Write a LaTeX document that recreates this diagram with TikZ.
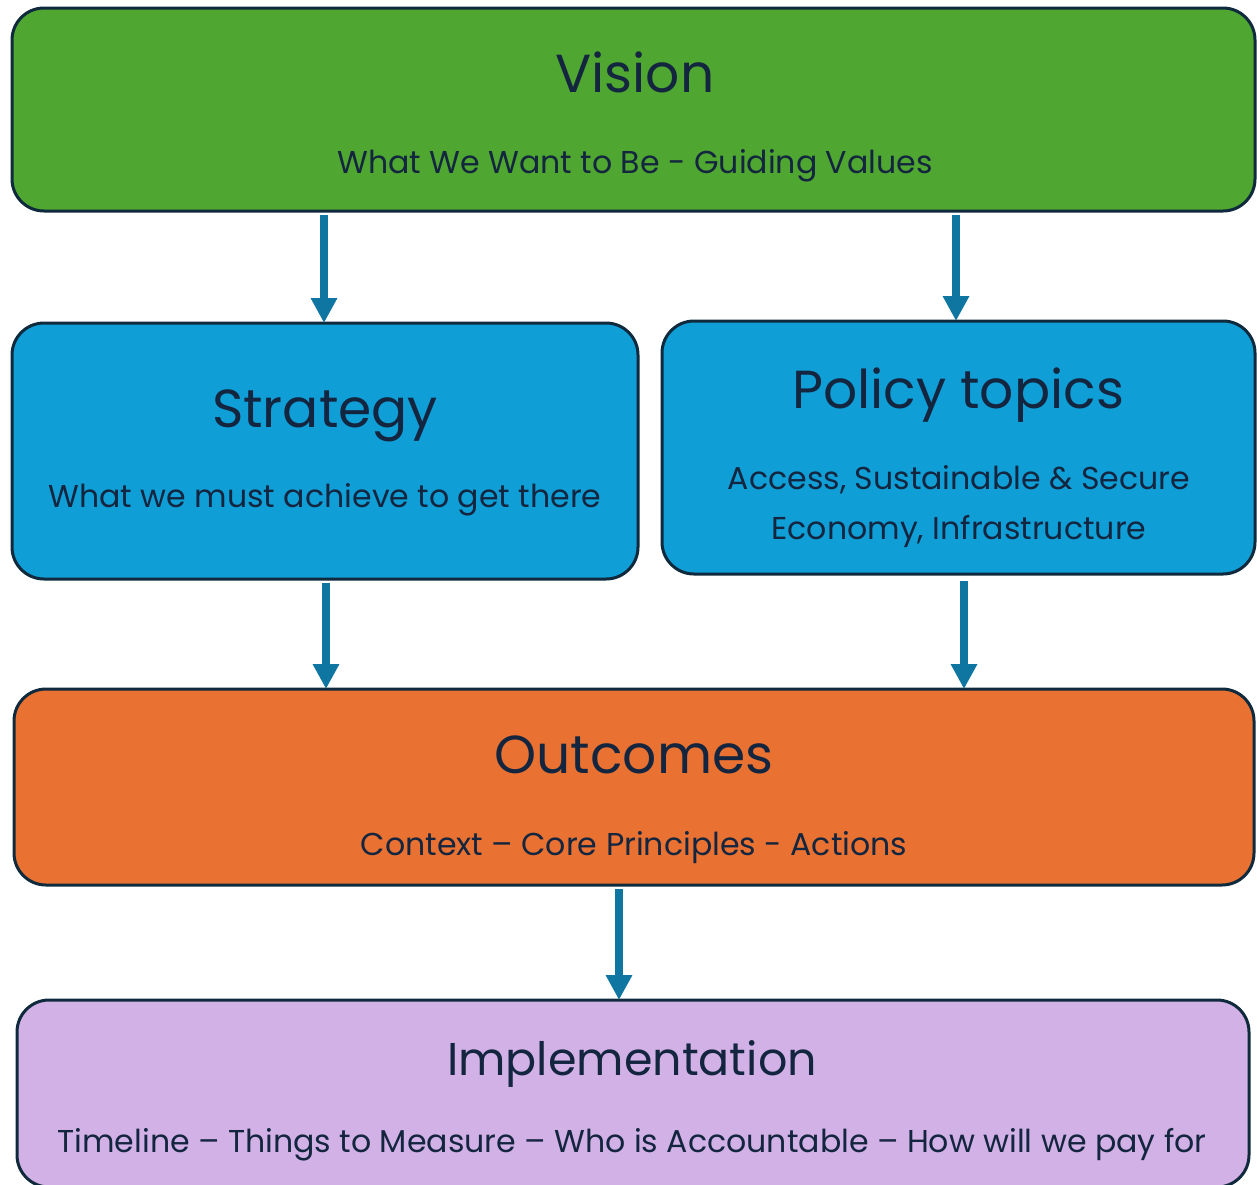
\documentclass[tikz,border=0pt]{standalone}
\usepackage{fontspec}
\setmainfont{Poppins}
\usetikzlibrary{arrows.meta}
\definecolor{visiongreen}{HTML}{4FA630}
\definecolor{boxblue}{HTML}{109ED6}
\definecolor{outorange}{HTML}{E97132}
\definecolor{implilac}{HTML}{D2B1E6}
\definecolor{arrowblue}{HTML}{0E76A0}
\definecolor{edgenavy}{HTML}{0F2A3D}
\definecolor{textnavy}{HTML}{14263F}
\tikzset{
  box/.style={draw=edgenavy, line width=3pt, rounded corners=32pt, rectangle, inner sep=0pt, outer sep=0pt},
  title/.style={anchor=base, text=textnavy, inner sep=0pt, font=\fontsize{53.5}{60}\selectfont},
  sub/.style={anchor=base, text=textnavy, inner sep=0pt, font=\fontsize{31.6}{36}\selectfont},
  arr/.style={draw=arrowblue, line width=8pt, -{Triangle[width=25pt,length=25pt]}},
}
\begin{document}
\begin{tikzpicture}[x=1pt,y=-1pt]
\useasboundingbox (0,0) rectangle (1257,1184);
% boxes
\node[box, fill=visiongreen, minimum width=1243pt, minimum height=203pt] (vision) at (633.5,109.5) {};
\node[box, fill=boxblue, minimum width=626pt, minimum height=256pt] (strategy) at (325,451) {};
\node[box, fill=boxblue, minimum width=593pt, minimum height=253pt] (policy) at (958.5,447.5) {};
\node[box, fill=outorange, minimum width=1240pt, minimum height=196pt] (outcomes) at (634,787) {};
\node[box, fill=implilac, minimum width=1232pt, minimum height=187pt] (impl) at (633,1093.5) {};
% texts
\node[title] (tv) at (635,92) {Vision};
\node[sub] (sv) at (635,173) {What We Want to Be - Guiding Values};
\node[title] (ts) at (325,427) {Strategy};
\node[sub] (ss) at (325,507) {What we must achieve to get there};
\node[title] (tp) at (958,408) {Policy topics};
\node[sub] (sp1) at (959,489) {Access, Sustainable \& Secure};
\node[sub] (sp2) at (959,539) {Economy, Infrastructure};
\node[title] (to) at (634,773) {Outcomes};
\node[sub] (so) at (634,855) {Context – Core Principles - Actions};
\node[title, font=\fontsize{46}{52}\selectfont] (ti) at (632,1075) {Implementation};
\node[sub] (si) at (632,1152) {Timeline – Things to Measure – Who is Accountable – How will we pay for};
% arrow columns
\coordinate (c1) at (324,0);
\coordinate (c2) at (956,0);
\coordinate (c3) at (326,0);
\coordinate (c4) at (964,0);
\coordinate (c5) at (619,0);
\draw[arr] ([yshift=-4pt]vision.south -| c1) -- (strategy.north -| c1);
\draw[arr] ([yshift=-4pt]vision.south -| c2) -- (policy.north -| c2);
\draw[arr] ([yshift=-4pt]strategy.south -| c3) -- (outcomes.north -| c3);
\draw[arr] ([yshift=-7pt]policy.south -| c4) -- (outcomes.north -| c4);
\draw[arr] ([yshift=-4pt]outcomes.south -| c5) -- (impl.north -| c5);
\end{tikzpicture}
\end{document}
